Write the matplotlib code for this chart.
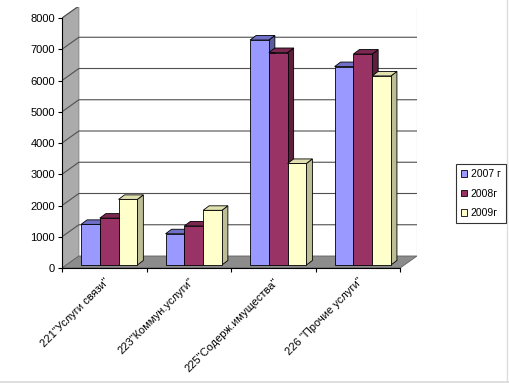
import matplotlib
matplotlib.use("Agg")
import matplotlib.pyplot as plt
from matplotlib.patches import Polygon
from matplotlib.lines import Line2D

plt.rcParams['font.family'] = ['Liberation Sans', 'DejaVu Sans']

categories = ['221"Услуги связи"', '223"Коммун.услуги"',
              '225"Содерж.имущества"', '226 "Прочие услуги"']
series = ['2007 г', '2008г', '2009г']
v2007 = [1300, 1000, 7200, 6350]
v2008 = [1500, 1250, 6800, 6750]
v2009 = [2100, 1750, 3250, 6050]
values = [v2007, v2008, v2009]
yticks = [0, 1000, 2000, 3000, 4000, 5000, 6000, 7000, 8000]

front = ['#9999ff', '#993366', '#ffffcc']
side = ['#5c5c99', '#5c1f3d', '#bdbd96']
top = ['#7070c8', '#7a2850', '#e0e0b0']

W, H = 509, 383
fig = plt.figure(figsize=(W / 100, H / 100), dpi=100)
ax = fig.add_axes([62 / W, 1 - 268 / H, (417 - 62) / W, (268 - 7) / H])

# 3d offsets (wall and bars)
wdx, wdy = 0.2, 384
bdx, bdy = 0.071, 144
by = 96
bw = 0.222
start = 0.2255

ax.set_xlim(-0.5, 3.5 + wdx)
ax.set_ylim(0, 261 * 32)

# side wall and floor
ax.add_patch(Polygon([(-0.5, 0), (-0.5 + wdx, wdy), (-0.5 + wdx, 8000 + wdy), (-0.5, 8000)],
                     closed=True, fc='#ababab', ec='#808080', lw=0.6, zorder=1))
ax.add_patch(Polygon([(-0.5, 0), (3.5, 0), (3.5 + wdx, wdy), (-0.5 + wdx, wdy)],
                     closed=True, fc='#8c8c8c', ec='#606060', lw=0.6, zorder=1))
# gridlines on walls
for v in yticks[1:]:
    ax.plot([-0.5, -0.5 + wdx, 3.5 + wdx], [v, v + wdy, v + wdy],
            color='#505050', lw=0.8, zorder=1.5)
ax.plot([3.5 + wdx, 3.5 + wdx], [wdy, 8000 + wdy], color='#a0a0a0', lw=0.8, zorder=1.5)

# bars
z = 3
for i, vals in enumerate(values):
    xs = [c - 0.5 + start + i * bw for c in range(len(categories))]
    ax.bar(xs, vals, width=bw, bottom=by, align='edge', color=front[i],
           edgecolor='black', lw=0.6, zorder=z + i * 0.1, label=series[i])
    for x, v in zip(xs, vals):
        ax.add_patch(Polygon([(x + bw, by), (x + bw + bdx, by + bdy),
                              (x + bw + bdx, by + v + bdy), (x + bw, by + v)],
                             closed=True, fc=side[i], ec='black', lw=0.6, zorder=z + i * 0.1 - 0.05))
        ax.add_patch(Polygon([(x, by + v), (x + bdx, by + v + bdy),
                              (x + bw + bdx, by + v + bdy), (x + bw, by + v)],
                             closed=True, fc=top[i], ec='black', lw=0.6, zorder=z + i * 0.1 - 0.05))

# axes
for s in ['top', 'right']:
    ax.spines[s].set_visible(False)
ax.spines['left'].set_bounds(0, 8000)
ax.spines['bottom'].set_bounds(-0.5, 3.5)
ax.spines['left'].set_zorder(2)
ax.spines['bottom'].set_zorder(2)
ax.set_yticks(yticks)
ax.set_yticklabels([str(t) for t in yticks], fontsize=8)
ax.tick_params(axis='y', length=3, width=0.8, pad=2)
ax.set_xticks([-0.5, 0.5, 1.5, 2.5, 3.5])
ax.set_xticklabels([])
ax.tick_params(axis='x', length=3, width=0.8)
ax.set_xticks(range(len(categories)), minor=True)
ax.set_xticklabels(categories, minor=True, rotation=45, ha='right', va='top',
                   rotation_mode='anchor', fontsize=8)
ax.tick_params(axis='x', which='minor', length=0, pad=6)
ax.patch.set_visible(False)

leg = fig.legend(loc='upper left', bbox_to_anchor=(456 / W, 1 - 164 / H), fontsize=7.5,
                 frameon=True, fancybox=False, edgecolor='black', handlelength=0.6,
                 handleheight=0.6, handletextpad=0.3, borderpad=0.5, labelspacing=0.9,
                 borderaxespad=0)
leg.get_frame().set_linewidth(0.8)

# light frame of the picture
fig.add_artist(Line2D([0, 1], [1.5 / H, 1.5 / H], color='#dddddd', lw=2))
fig.add_artist(Line2D([507 / W, 507 / W], [0, 1], color='#dddddd', lw=1))

fig.savefig('out.png', dpi=100)
